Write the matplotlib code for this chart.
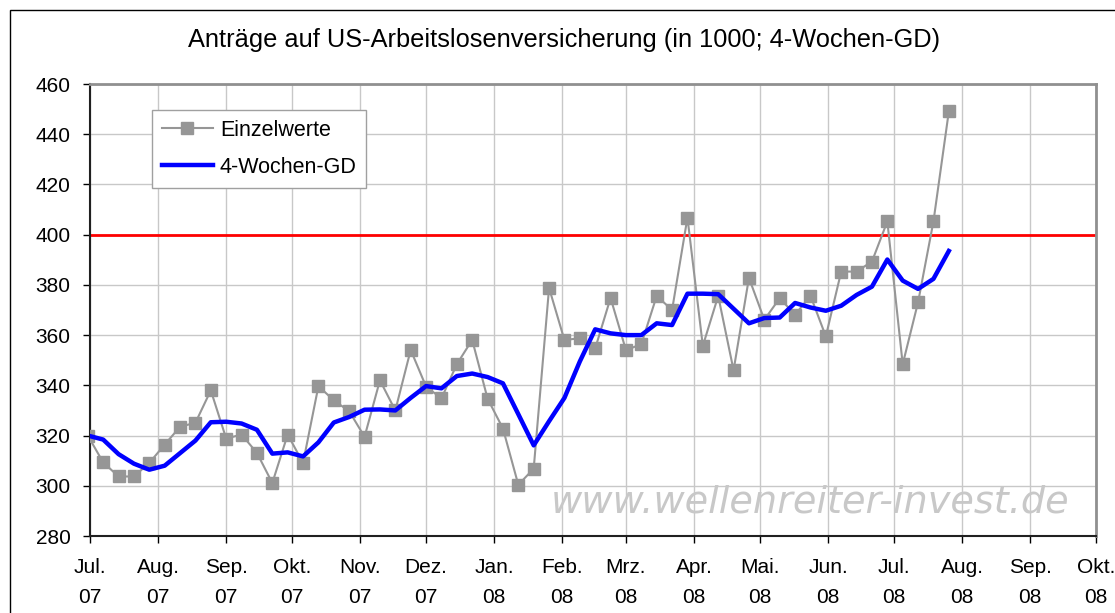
import matplotlib
matplotlib.use('Agg')
import matplotlib.pyplot as plt
from matplotlib.patches import Rectangle
import pandas as pd

plt.rcParams['font.family'] = ['Liberation Sans', 'DejaVu Sans']

# weekly initial claims (in 1000), week ending Saturday
start_week = '2007-06-30'
einzelwerte = [320, 309.3, 303.7, 303.7, 309.1, 316.4, 323.5, 325.1, 338, 318.8,
               320.4, 313.1, 301.1, 320.4, 309.1, 339.7, 334, 329.7, 319.5, 342,
               330, 354.1, 339.5, 334.8, 348.4, 358.1, 334.7, 322.8, 300.4, 306.8,
               378.8, 358, 358.8, 354.7, 374.8, 354, 356.4, 375.6, 370, 406.8,
               355.7, 375.6, 346, 382.8, 366.1, 374.7, 368.1, 375.7, 359.5, 385.3,
               385.3, 389.3, 405.3, 348.4, 373.1, 405.3, 449.1]
gd4 = [320, 318.4, 312.6, 308.8, 306.4, 308, 313, 318, 325.3, 325.5,
       324.8, 322.3, 312.8, 313.3, 311.7, 317.3, 325.2, 327.4, 330.3, 330.4,
       330, 335, 339.7, 338.8, 343.7, 344.7, 343.3, 340.8, 328.5, 316.1,
       325.7, 335, 349.5, 362.3, 360.7, 360, 360, 364.7, 364, 376.5,
       376.5, 376.3, 370.5, 364.7, 366.8, 367, 372.8, 371, 369.7, 371.7,
       376, 379.3, 390.1, 381.7, 378.4, 382.4, 393.5]
schwelle = 400

month_labels = ['Jul.\n07', 'Aug.\n07', 'Sep.\n07', 'Okt.\n07', 'Nov.\n07', 'Dez.\n07',
                'Jan.\n08', 'Feb.\n08', 'Mrz.\n08', 'Apr.\n08', 'Mai.\n08', 'Jun.\n08',
                'Jul.\n08', 'Aug.\n08', 'Sep.\n08', 'Okt.\n08']

dates = pd.date_range(start_week, periods=len(einzelwerte), freq='7D')
month_ticks = pd.date_range('2007-07-01', periods=len(month_labels), freq='MS')

fig = plt.figure(figsize=(11.15, 6.13), dpi=100)
ax = fig.add_axes([90/1115, 77/613, 1006/1115, 452/613])

# outer chart border
fig.patches.append(Rectangle((10/1115, -0.05), 1.1, 1 - 10/613 + 0.05,
                             transform=fig.transFigure, fill=False,
                             edgecolor='black', lw=1))

ax.plot(dates, einzelwerte, color='#969696', lw=1.5, marker='s', ms=8.5,
        mec='#969696', mfc='#969696', label='Einzelwerte', zorder=3)
ax.plot(dates, gd4, color='#0000ff', lw=3.2, label='4-Wochen-GD', zorder=4)
ax.axhline(schwelle, color='#ff0000', lw=2, zorder=2)

ax.set_xlim(month_ticks[0], month_ticks[-1])
ax.set_ylim(280, 460)
ax.set_yticks(range(280, 461, 20))
ax.set_xticks(month_ticks)
ax.set_xticklabels(month_labels, linespacing=1.72)
ax.grid(True, color='#c8c8c8', lw=1)
ax.set_axisbelow(True)

ax.tick_params(axis='both', direction='out', length=5, width=1, labelsize=15,
               colors='black')
ax.tick_params(axis='x', pad=11)
ax.tick_params(axis='y', pad=9)

for s in ['left', 'bottom']:
    ax.spines[s].set_color('#202020')
    ax.spines[s].set_linewidth(1.5)
for s in ['top', 'right']:
    ax.spines[s].set_color('#909090')
    ax.spines[s].set_linewidth(2)

fig.text(564/1115, 1 - 40/613, 'Anträge auf US-Arbeitslosenversicherung (in 1000; 4-Wochen-GD)',
         ha='center', va='center', fontsize=18.3)

ax.text(0.974, 0.051, 'www.wellenreiter-invest.de', transform=ax.transAxes,
        ha='right', va='baseline', fontsize=27.5, style='italic',
        family='DejaVu Sans', color='#c8c8c8', zorder=1)

leg = ax.legend(loc='upper left', bbox_to_anchor=(0.0616, 0.9425), borderaxespad=0,
                fontsize=15.5, frameon=True, fancybox=False, framealpha=1,
                edgecolor='#a0a0a0', handlelength=2.4, labelspacing=0.75,
                borderpad=0.45, handletextpad=0.3)
leg.get_frame().set_linewidth(1)

fig.savefig('out.png', dpi=100)
